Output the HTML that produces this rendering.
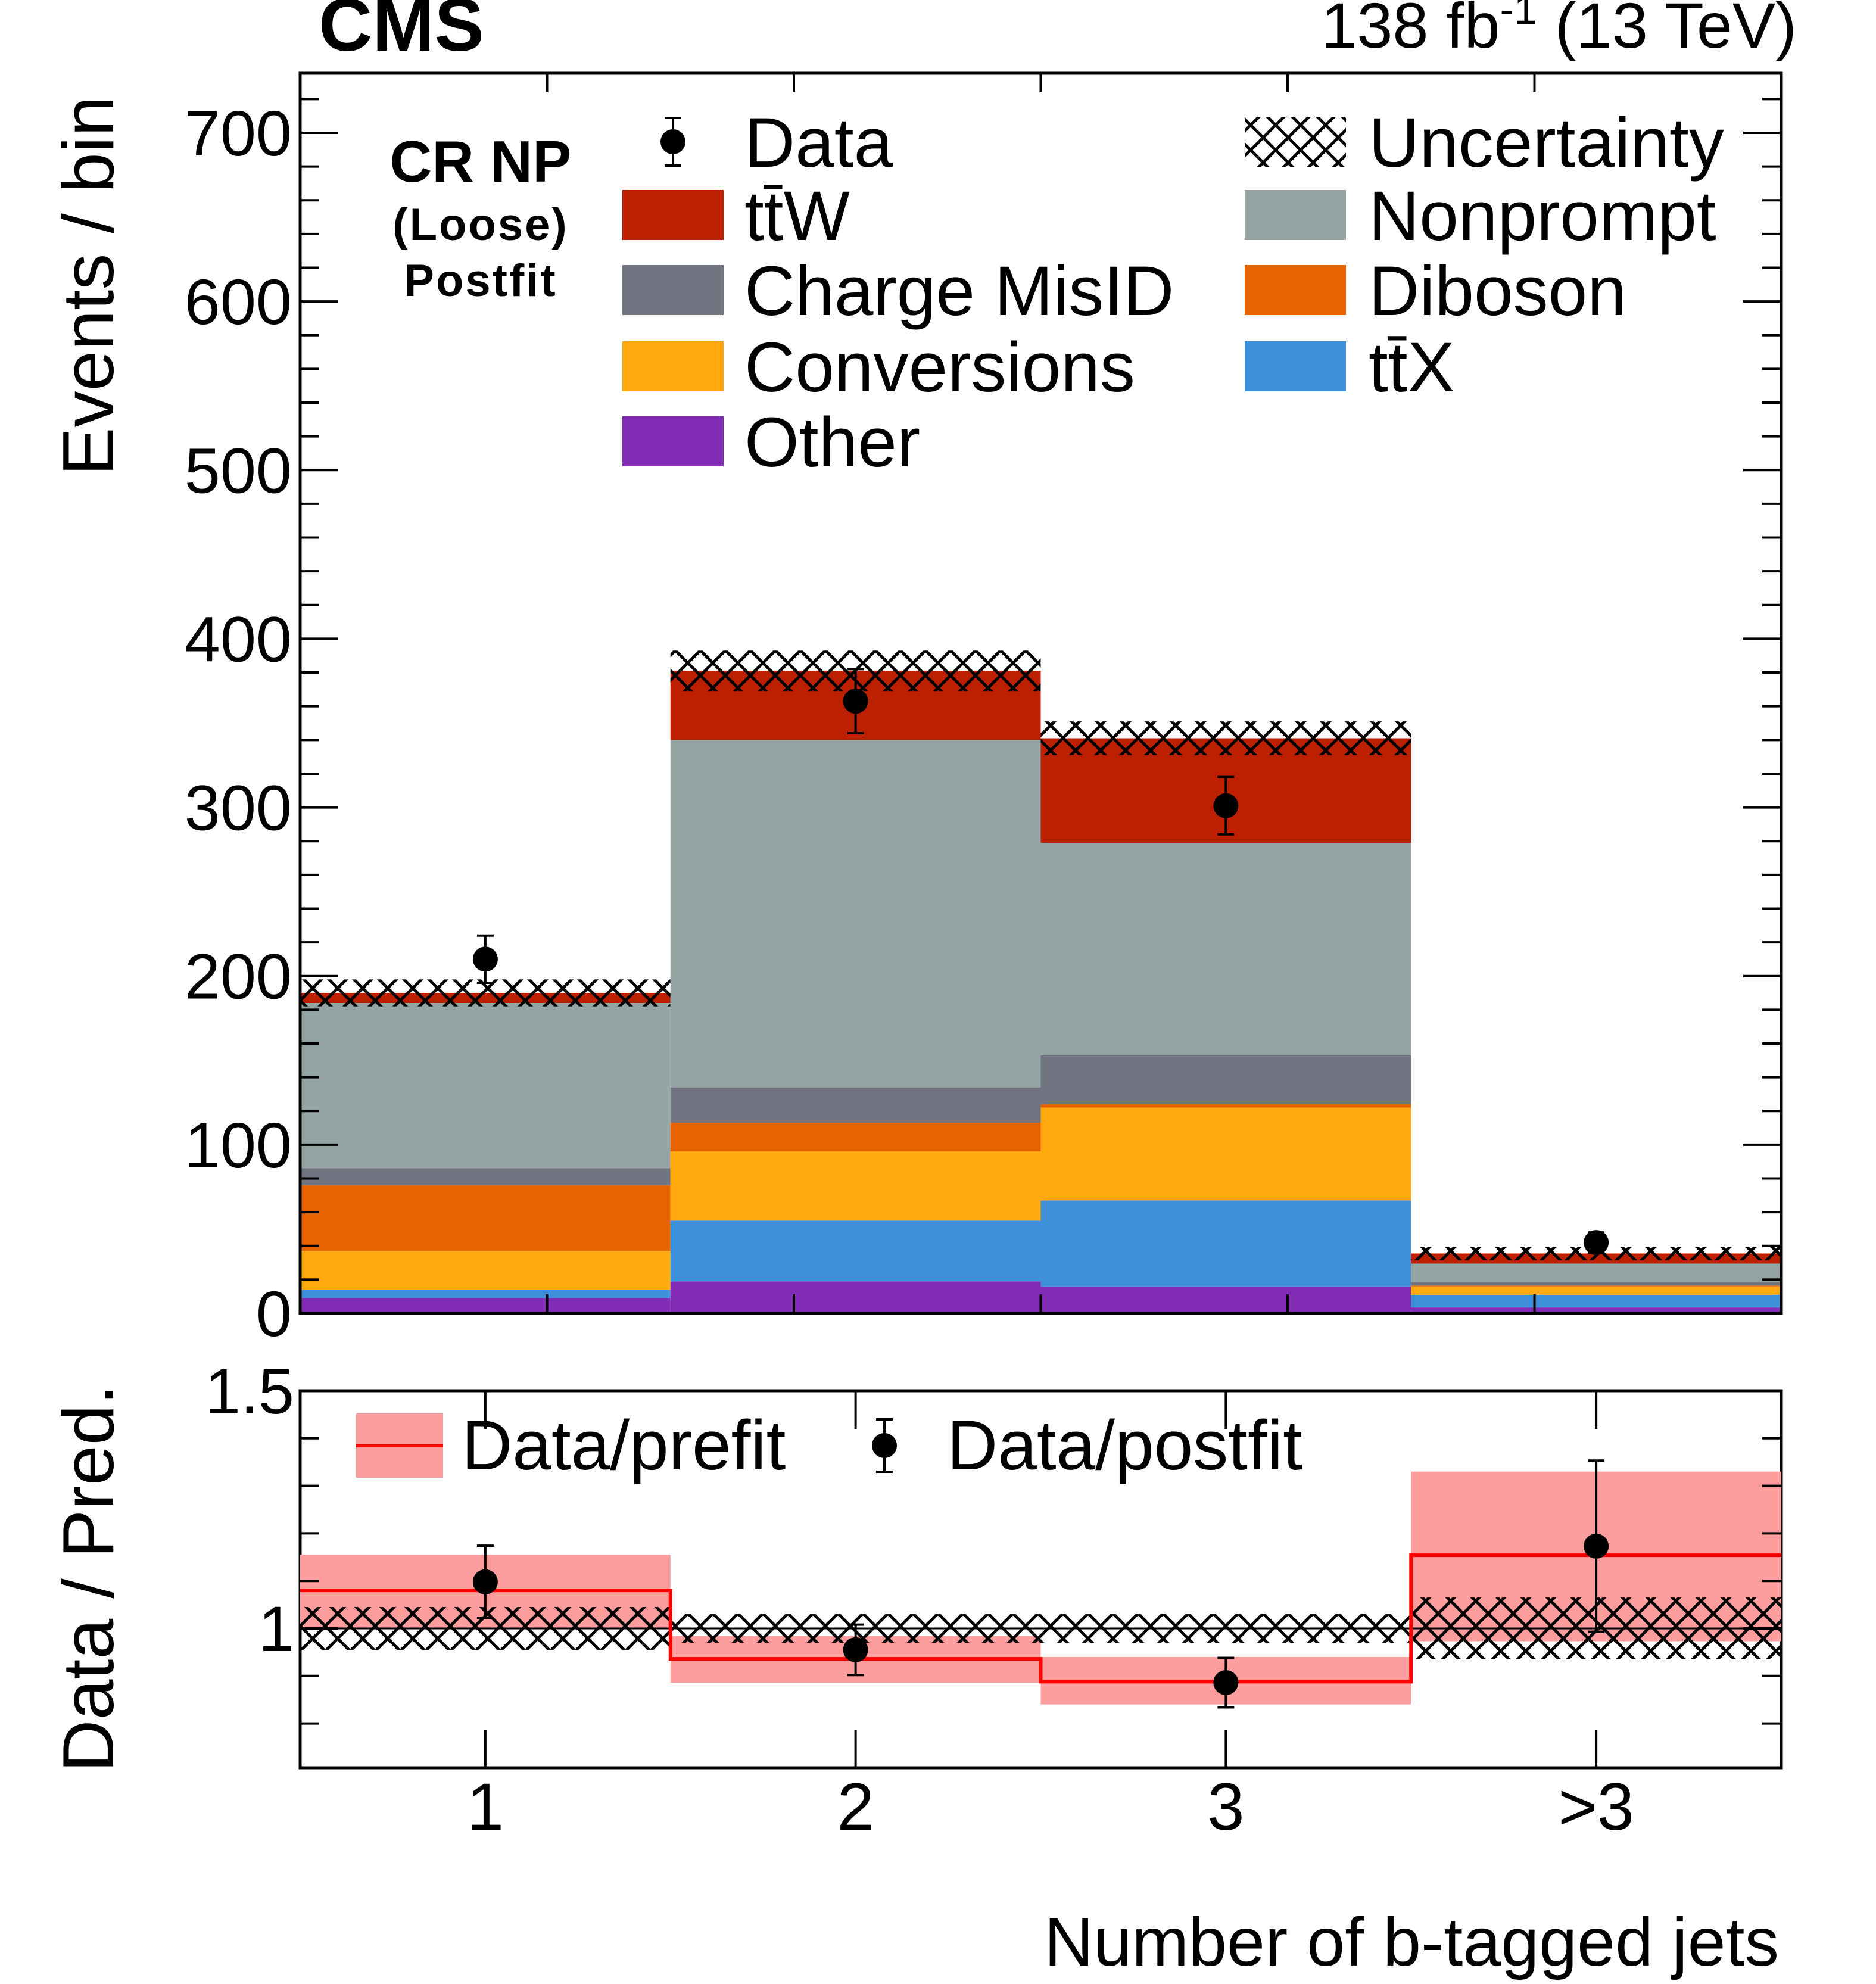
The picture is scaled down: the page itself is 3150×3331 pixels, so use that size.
<!DOCTYPE html>
<html><head><meta charset="utf-8"><style>
html,body{margin:0;padding:0;background:#fff}
svg{display:block;font-family:"Liberation Sans",sans-serif}
</style></head><body>
<svg id="c" width="3150" height="3331" viewBox="0 0 3150 3331" xmlns="http://www.w3.org/2000/svg">
<defs>
<pattern id="hatch" width="42" height="42" patternUnits="userSpaceOnUse">
<path d="M0 0L42 42M42 0L0 42" stroke="#000" stroke-width="5"/>
</pattern>
</defs>
<g id="main"></g>
<g id="ratio"></g>
<text x="535" y="85" font-size="125" font-weight="bold">CMS</text>
<text x="3017" y="80" font-size="108" text-anchor="end">138 fb<tspan dy="-40" font-size="70">-1</tspan><tspan dy="40"> (13 TeV)</tspan></text>
<text transform="translate(190,480) rotate(-90)" font-size="122" text-anchor="middle">Events / bin</text>
<text transform="translate(190,2650) rotate(-90)" font-size="122" text-anchor="middle">Data / Pred.</text>
<text x="2987" y="3300" font-size="115" text-anchor="end">Number of b-tagged jets</text>
<g font-weight="bold" text-anchor="middle">
<text x="807" y="305" font-size="98">CR NP</text>
<text x="807" y="403" font-size="76" letter-spacing="3">(Loose)</text>
<text x="807" y="497" font-size="76" letter-spacing="3">Postfit</text>
</g>
<g id="legend" font-size="118"></g>
</svg>
<script>
const categories = ["1","2","3",">3"];
const procNames = ["Other","ttX","Conversions","Diboson","Charge MisID","Nonprompt","ttW"];
const other = [9,19,16,3.5];
const ttx = [5,36,51,7.5];
const conversions = [23,41,55,5];
const diboson = [39,17,2,0.5];
const chargeMisID = [10,21,29,2];
const nonprompt = [98,206,126,11];
const ttw = [6,41,62,6];
const uncertainty = [8,12,10,4];
const dataVals = [210,363,301,42];
const dataErr = [14,19,17,6];
const prefitRatio = [1.08,0.936,0.888,1.154];
const prefitLo = [1.0,0.886,0.84,0.973];
const prefitHi = [1.155,0.984,0.94,1.33];
const postfitRatio = [1.098,0.955,0.886,1.173];
const postfitErr = [0.076,0.053,0.052,0.18];
const ratioUnc = [0.045,0.03,0.03,0.065];
const yTicks = [0,100,200,300,400,500,600,700];
const ratioTickLabels = [1,1.5];

const colors = ["#832db6","#3f90da","#ffa90e","#e76300","#717581","#94a4a2","#bd1f01"];
const series = [other,ttx,conversions,diboson,chargeMisID,nonprompt,ttw];
const NS="http://www.w3.org/2000/svg";
const L=504,R=2991,T=123,B=2205,RT=2335,RB=2968;
const xs=v=>L+(v-0.5)/4*(R-L);
function y(v){return B - v*(B-223)/700;}
const rmin=1-234/798, rmax=1.5;
function ry(v){return RB-(v-rmin)/(rmax-rmin)*(RB-RT);}
function el(tag,attrs,parent,name,inter){const e=document.createElementNS(NS,tag);for(const k in attrs)e.setAttribute(k,attrs[k]);


parent.appendChild(e);return e;}
const main=document.getElementById('main'), ratio=document.getElementById('ratio'), leg=document.getElementById('legend');

categories.forEach((c,i)=>{
  let cum=0;
  series.forEach((s,j)=>{
    const y0=y(cum), y1=y(cum+s[i]); cum+=s[i];
    el('rect',{x:xs(i+0.5),y:y1,width:xs(i+1.5)-xs(i+0.5),height:y0-y1,fill:colors[j]},main,'bar-'+procNames[j].toLowerCase().replace(/ /g,'-')+'-bin'+(i+1));
  });
  el('rect',{x:xs(i+0.5),y:y(cum+uncertainty[i]),width:xs(i+1.5)-xs(i+0.5),height:y(cum-uncertainty[i])-y(cum+uncertainty[i]),fill:'url(#hatch)'},main,'uncertainty-band-bin'+(i+1));
});
categories.forEach((c,i)=>{
  const cx=xs(i+1);
  el('line',{x1:cx,x2:cx,y1:y(dataVals[i]-dataErr[i]),y2:y(dataVals[i]+dataErr[i]),stroke:'#000','stroke-width':4},main,'data-error-bin'+(i+1));
  [dataVals[i]-dataErr[i],dataVals[i]+dataErr[i]].forEach(v=>el('line',{x1:cx-14,x2:cx+14,y1:y(v),y2:y(v),stroke:'#000','stroke-width':4},main,'data-error-cap'));
  el('circle',{cx:cx,cy:y(dataVals[i]),r:21,fill:'#000'},main,'data-point-bin'+(i+1));
});
el('rect',{x:L,y:T,width:R-L,height:B-T,fill:'none',stroke:'#000','stroke-width':5},main,'main-frame');
el('rect',{x:L,y:RT,width:R-L,height:RB-RT,fill:'none',stroke:'#000','stroke-width':5},ratio,'ratio-frame');
for(let v=0;v<=735;v+=20){const maj=v%100==0;const len=maj?64:32;
  el('line',{x1:L,x2:L+len,y1:y(v),y2:y(v),stroke:'#000','stroke-width':4},main,'y-tick');
  el('line',{x1:R,x2:R-len,y1:y(v),y2:y(v),stroke:'#000','stroke-width':4},main,'y-tick-right');}
yTicks.forEach(v=>{const t=el('text',{x:L-14,y:y(v)+38,'font-size':108,'text-anchor':'end'},main,'y-tick-label');t.textContent=v;});
for(let k=1;k<6;k++){const xv=0.5+k*2/3;
  el('line',{x1:xs(xv),x2:xs(xv),y1:T,y2:T+32,stroke:'#000','stroke-width':4},main,'x-tick-top');
  el('line',{x1:xs(xv),x2:xs(xv),y1:B,y2:B-32,stroke:'#000','stroke-width':4},main,'x-tick-bottom');}
categories.forEach((c,i)=>{
  const x0=xs(i+0.5),x1=xs(i+1.5);
  el('rect',{x:x0,y:ry(prefitHi[i]),width:x1-x0,height:ry(prefitLo[i])-ry(prefitHi[i]),fill:'#fd9d9d'},ratio,'prefit-band-bin'+(i+1));
});
categories.forEach((c,i)=>{
  const x0=xs(i+0.5),x1=xs(i+1.5);
  el('rect',{x:x0,y:ry(1+ratioUnc[i]),width:x1-x0,height:ry(1-ratioUnc[i])-ry(1+ratioUnc[i]),fill:'url(#hatch)'},ratio,'ratio-uncertainty-bin'+(i+1));
});
el('line',{x1:L,x2:R,y1:ry(1),y2:ry(1),stroke:'#000','stroke-width':3},ratio,'unity-line');
let d='';
categories.forEach((c,i)=>{d+=(i==0?'M':'L')+xs(i+0.5)+' '+ry(prefitRatio[i])+'L'+xs(i+1.5)+' '+ry(prefitRatio[i]);});
el('path',{d:d,fill:'none',stroke:'#f00','stroke-width':6},ratio,'prefit-line');
categories.forEach((c,i)=>{
  const cx=xs(i+1);
  el('line',{x1:cx,x2:cx,y1:ry(postfitRatio[i]-postfitErr[i]),y2:ry(postfitRatio[i]+postfitErr[i]),stroke:'#000','stroke-width':4},ratio,'postfit-error-bin'+(i+1));
  [postfitRatio[i]-postfitErr[i],postfitRatio[i]+postfitErr[i]].forEach(v=>el('line',{x1:cx-14,x2:cx+14,y1:ry(v),y2:ry(v),stroke:'#000','stroke-width':4},ratio,'postfit-error-cap'));
  el('circle',{cx:cx,cy:ry(postfitRatio[i]),r:21,fill:'#000'},ratio,'postfit-point-bin'+(i+1));
  el('line',{x1:cx,x2:cx,y1:RB,y2:RB-64,stroke:'#000','stroke-width':4},ratio,'x-tick');
  el('line',{x1:cx,x2:cx,y1:RT,y2:RT+64,stroke:'#000','stroke-width':4},ratio,'x-tick-top');
  const t=el('text',{x:cx,y:3072,'font-size':112,'text-anchor':'middle'},ratio,'x-tick-label');t.textContent=c;
});
for(let v=0.8;v<=1.5001;v+=0.1){const maj=Math.abs(v-1)<1e-6||Math.abs(v-1.5)<1e-6;const len=maj?64:32;
  el('line',{x1:L,x2:L+len,y1:ry(v),y2:ry(v),stroke:'#000','stroke-width':4},ratio,'ratio-y-tick');
  el('line',{x1:R,x2:R-len,y1:ry(v),y2:ry(v),stroke:'#000','stroke-width':4},ratio,'ratio-y-tick-right');}
ratioTickLabels.forEach(v=>{const t=el('text',{x:L-10,y:ry(v)+38,'font-size':108,'text-anchor':'end'},ratio,'ratio-y-tick-label');t.textContent=v;});
function lt(x,yy,txt,name){const t=el('text',{x:x,y:yy+42},leg,name);t.textContent=txt;return t;}
const rowY=[238,361,487,615,741];
el('line',{x1:1130,x2:1130,y1:rowY[0]-40,y2:rowY[0]+40,stroke:'#000','stroke-width':4},leg,'legend-data-error');
[rowY[0]-40,rowY[0]+40].forEach(v=>el('line',{x1:1116,x2:1144,y1:v,y2:v,stroke:'#000','stroke-width':4},leg,'legend-data-cap'));
el('circle',{cx:1130,cy:rowY[0],r:21,fill:'#000'},leg,'legend-data-marker');
lt(1250,rowY[0],'Data','legend-data-label');
const leftItems=[[6,'tt\u0304W'],[4,'Charge MisID'],[2,'Conversions'],[0,'Other']];
leftItems.forEach((it,k)=>{const yy=rowY[k+1];el('rect',{x:1045,y:yy-42,width:170,height:84,fill:colors[it[0]]},leg,'legend-swatch');lt(1250,yy,it[1],'legend-entry');});
el('rect',{x:2090,y:rowY[0]-42,width:170,height:84,fill:'url(#hatch)'},leg,'legend-uncertainty-swatch');
lt(2298,rowY[0],'Uncertainty','legend-uncertainty-label');
const rightItems=[[5,'Nonprompt'],[3,'Diboson'],[1,'tt\u0304X']];
rightItems.forEach((it,k)=>{const yy=rowY[k+1];el('rect',{x:2090,y:yy-42,width:170,height:84,fill:colors[it[0]]},leg,'legend-swatch');lt(2298,yy,it[1],'legend-entry');});
el('rect',{x:598,y:2373,width:146,height:108,fill:'#fd9d9d'},leg,'legend-prefit-swatch');
el('line',{x1:598,x2:744,y1:2427,y2:2427,stroke:'#f00','stroke-width':6},leg,'legend-prefit-line');
lt(775,2425,'Data/prefit','legend-prefit-label');
el('line',{x1:1485,x2:1485,y1:2383,y2:2471,stroke:'#000','stroke-width':4},leg,'legend-postfit-error');
[2383,2471].forEach(v=>el('line',{x1:1471,x2:1499,y1:v,y2:v,stroke:'#000','stroke-width':4},leg,'legend-postfit-cap'));
el('circle',{cx:1485,cy:2427,r:21,fill:'#000'},leg,'legend-postfit-marker');
lt(1590,2425,'Data/postfit','legend-postfit-label');
</script>
</body></html>
